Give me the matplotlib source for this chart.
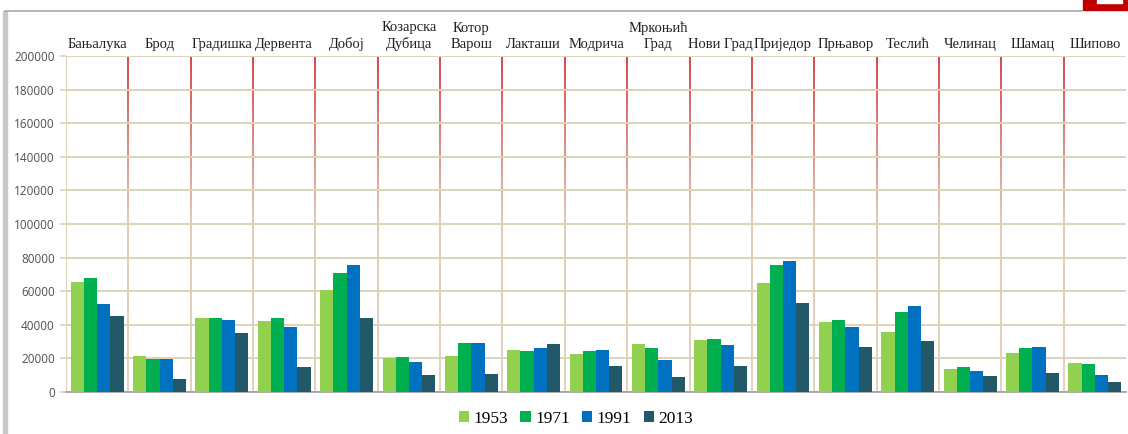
import numpy as np
from matplotlib import pyplot as plt
from matplotlib.collections import LineCollection
from matplotlib.colors import LinearSegmentedColormap
from matplotlib.patches import Rectangle

towns = ['Бањалука', 'Брод', 'Градишка', 'Дервента', 'Добој', 'Козарска\nДубица',
         'Котор\nВарош', 'Лакташи', 'Модрича', 'Мркоњић\nГрад', 'Нови Град',
         'Приједор', 'Прњавор', 'Теслић', 'Челинац', 'Шамац', 'Шипово']
years = ['1953', '1971', '1991', '2013']
pop_1953 = [65400, 21200, 44000, 42200, 60600, 20200, 21600, 25200, 22800, 28600,
            31000, 64600, 41800, 35600, 13800, 23200, 17200]
pop_1971 = [68000, 19800, 44000, 44200, 70800, 21000, 29000, 24400, 24200, 26000,
            31400, 75800, 42600, 47800, 15000, 26200, 16400]
pop_1991 = [52600, 19800, 43000, 38600, 75400, 17600, 29400, 26200, 25200, 18800,
            27800, 78000, 38800, 51200, 12400, 26600, 10000]
pop_2013 = [45000, 7800, 35400, 14600, 44200, 10400, 10800, 28800, 15200, 8800,
            15600, 53000, 26600, 30400, 9800, 11400, 5800]
colors = ['#92d050', '#00b050', '#0070c0', '#215968']

fig = plt.figure(figsize=(11.28, 4.34), dpi=100)
ax = fig.add_axes([66 / 1128, 1 - 392 / 434, 1060 / 1128, 336 / 434])

x = np.arange(len(towns))
w = 0.212
for i, vals in enumerate([pop_1953, pop_1971, pop_1991, pop_2013]):
    ax.bar(x + (i - 1.5) * w, vals, width=w, color=colors[i], label=years[i], zorder=3)

ax.set_xlim(-0.5, len(towns) - 0.5)
ax.set_ylim(0, 200000)
ax.set_yticks(np.arange(0, 200001, 20000))
ax.yaxis.grid(True, color='#ddd3bb', linewidth=1.4, zorder=0)
ax.tick_params(axis='y', length=4, color='#ddd3bb', width=1.2, pad=4)
for lab in ax.get_yticklabels():
    lab.set_fontfamily('Open Sans')
    lab.set_fontsize(8.5)
    lab.set_color('#505050')

# separators: red at top fading to tan at bottom
cmap = LinearSegmentedColormap.from_list('sep', ['#ddd0b8', '#ddc8b0', '#d03a3a'])
ys = np.linspace(0, 200000, 80)
for k in range(1, len(towns)):
    pts = np.array([[k - 0.5, yy] for yy in ys])
    segs = np.stack([pts[:-1], pts[1:]], axis=1)
    lc = LineCollection(segs, cmap=cmap, linewidths=1.3, zorder=1)
    lc.set_array(ys[:-1] / 200000)
    ax.add_collection(lc)

ax.xaxis.tick_top()
ax.set_xticks(x)
ax.set_xticklabels(towns, fontfamily='Liberation Serif', fontsize=10.5, color='#202020',
                   linespacing=1.3)
ax.tick_params(axis='x', length=0, pad=3.5)

for side in ['top', 'right']:
    ax.spines[side].set_visible(False)
ax.spines['left'].set_color('#ddd3bb')
ax.spines['bottom'].set_color('#a0a0a0')
ax.spines['bottom'].set_linewidth(1.2)

leg = ax.legend(loc='center', bbox_to_anchor=(0.481, -0.08), ncol=4, frameon=False,
                prop={'family': 'Liberation Serif', 'size': 12.5}, handlelength=0.6,
                handleheight=0.6, handletextpad=0.25, columnspacing=0.7)

# page decoration
fig.add_artist(plt.Line2D([5 / 1128, 1082 / 1128], [1 - 11 / 434, 1 - 11 / 434],
                          color='#a8a8a8', linewidth=1.2, transform=fig.transFigure))
fig.add_artist(Rectangle((3 / 1128, 0), 4 / 1128, 1 - 11 / 434, color='#c8c8c8',
                         transform=fig.transFigure))
fig.add_artist(Rectangle((1083 / 1128, 1 - 10 / 434), 45 / 1128, 10 / 434,
                         color='#c00000', transform=fig.transFigure))
fig.add_artist(Rectangle((1097 / 1128, 1 - 3 / 434), 25 / 1128, 3 / 434,
                         color='white', transform=fig.transFigure))

plt.savefig('out.png', dpi=100)
